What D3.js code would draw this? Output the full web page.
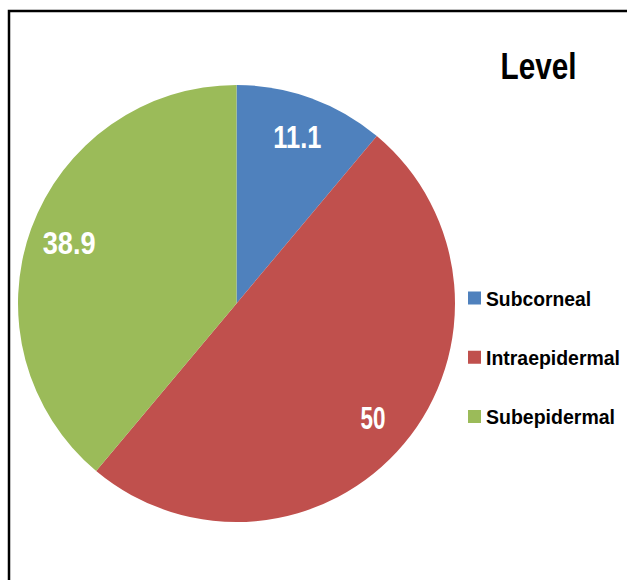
<!DOCTYPE html>
<html>
<head>
<meta charset="utf-8">
<script src="https://cdn.jsdelivr.net/npm/d3@7"></script>
<style>
  html, body { margin: 0; padding: 0; background: #fff; }
  svg { display: block; }
  text { font-family: "Liberation Sans", Arial, sans-serif; font-weight: bold; }
</style>
</head>
<body>
<svg id="chart" width="627" height="580"></svg>
<script>
const categories = ["Subcorneal", "Intraepidermal", "Subepidermal"];
const values = [11.1, 50, 38.9];
const labels = ["11.1", "50", "38.9"];
const colors = ["#4F81BD", "#C0504D", "#9BBB59"];
const title = "Level";

// condensed-font emulation (widths in px, styling only)
const labelWidths = [48, 25, 53];
const legendWidths = [105, 134, 129];

const svg = d3.select("#chart");

// frame
svg.append("rect")
  .attr("x", 9).attr("y", 11)
  .attr("width", 660).attr("height", 620)
  .attr("fill", "#fff")
  .attr("stroke", "#000").attr("stroke-width", 2.5);

const cx = 236.5, cy = 303.5, R = 218.5;
const pie = d3.pie().sort(null).value(d => d)(values);
const arc = d3.arc().innerRadius(0).outerRadius(R);
const labelArc = d3.arc().innerRadius(178).outerRadius(178);
const color = d3.scaleOrdinal().domain(categories).range(colors);

const g = svg.append("g").attr("transform", `translate(${cx},${cy})`);
g.selectAll("path.slice").data(pie).join("path")
  .attr("class", "slice")
  .attr("d", arc)
  .attr("fill", (d, i) => color(categories[i]));

g.selectAll("text.lbl").data(pie).join("text")
  .attr("class", "lbl")
  .attr("x", d => labelArc.centroid(d)[0])
  .attr("y", d => labelArc.centroid(d)[1] + 11.5)
  .attr("text-anchor", "middle")
  .attr("fill", "#fff")
  .attr("font-size", 32)
  .attr("textLength", (d, i) => labelWidths[i])
  .attr("lengthAdjust", "spacingAndGlyphs")
  .text((d, i) => labels[i]);

// title
svg.append("text")
  .attr("x", 538.5).attr("y", 79)
  .attr("text-anchor", "middle")
  .attr("font-size", 37)
  .attr("textLength", 76)
  .attr("lengthAdjust", "spacingAndGlyphs")
  .attr("fill", "#000")
  .text(title);

// legend
const legendY = d3.scalePoint().domain(categories).range([298, 416.5]);
const lg = svg.append("g");
const items = lg.selectAll("g").data(categories).join("g")
  .attr("transform", d => `translate(468,${legendY(d)})`);
items.append("rect")
  .attr("x", 0).attr("y", -6.5)
  .attr("width", 13).attr("height", 13)
  .attr("fill", d => color(d));
items.append("text")
  .attr("x", 18).attr("y", 7.5)
  .attr("font-size", 21)
  .attr("textLength", (d, i) => legendWidths[i])
  .attr("lengthAdjust", "spacingAndGlyphs")
  .attr("fill", "#000")
  .text(d => d);
</script>
</body>
</html>
